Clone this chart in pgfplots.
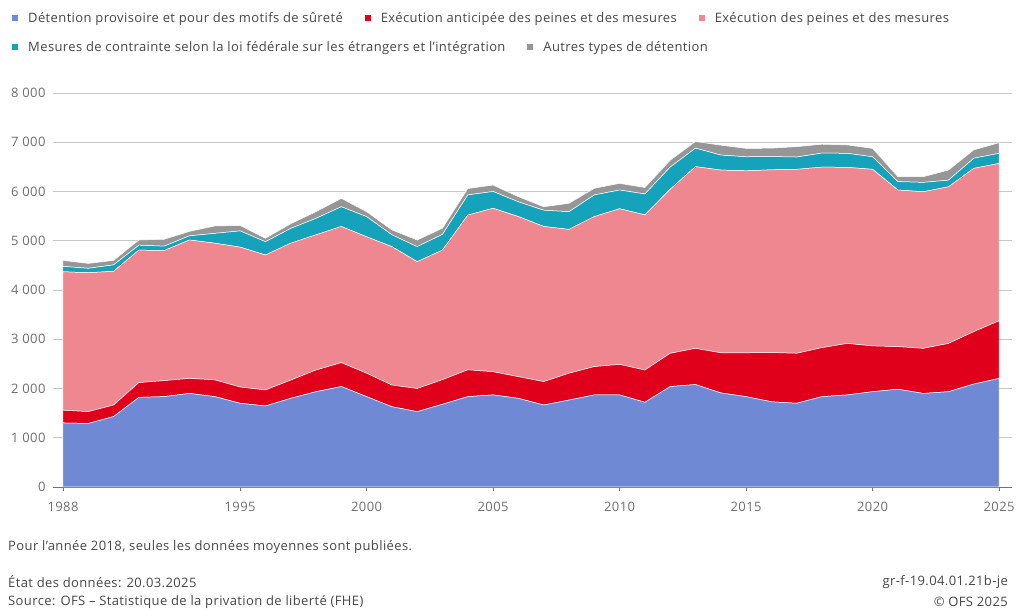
\documentclass[border=0pt]{standalone}
\usepackage{fontspec}
\setmainfont{Open Sans}[LetterSpace=3]
\usepackage{pgfplots}
\usepackage{pgfplotstable}
\pgfplotsset{compat=1.18}

\definecolor{cBlue}{RGB}{111,137,212}
\definecolor{cRed}{RGB}{224,0,27}
\definecolor{cPink}{RGB}{238,135,144}
\definecolor{cTeal}{RGB}{20,163,186}
\definecolor{cGray}{RGB}{150,150,150}
\definecolor{cText}{RGB}{70,70,70}
\definecolor{cTick}{RGB}{110,110,110}

\pgfplotstableread{
year  a     b     c     d    e
1988  1300  260   2810  110  120
1989  1290  240   2820  90   100
1990  1430  235   2715  130  90
1991  1820  300   2690  100  105
1992  1835  325   2640  90   140
1993  1900  305   2810  85   90
1994  1835  340   2775  200  150
1995  1700  330   2840  330  110
1996  1645  325   2740  270  70
1997  1800  370   2780  300  95
1998  1935  440   2745  335  135
1999  2040  485   2765  400  170
2000  1835  475   2770  410  100
2001  1630  440   2810  240  100
2002  1530  470   2575  305  135
2003  1680  500   2630  320  125
2004  1835  545   3140  410  130
2005  1870  470   3320  340  130
2006  1800  440   3250  300  105
2007  1665  475   3150  330  70
2008  1765  545   2920  360  170
2009  1870  575   3045  440  135
2010  1870  620   3160  380  135
2011  1720  655   3150  425  130
2012  2040  675   3330  450  140
2013  2080  735   3690  375  135
2014  1910  815   3710  305  200
2015  1835  890   3695  285  170
2016  1730  1000  3710  270  170
2017  1700  1015  3735  250  210
2018  1835  995   3665  285  180
2019  1870  1045  3575  285  170
2020  1935  930   3585  255  170
2021  1985  865   3180  170  100
2022  1900  915   3180  190  115
2023  1935  980   3180  135  205
2024  2090  1065  3315  205  170
2025  2205  1170  3195  205  215
}\datatable

\begin{document}
\begin{tikzpicture}[font=\fontsize{13bp}{16bp}\selectfont]
\path[use as bounding box] (0,0) rectangle (1016bp,610bp);
\pgfplotsset{
  legsq/.style={legend image code/.code={\fill[##1,draw=none] (0bp,-3bp) rectangle (6bp,3bp);}},
}
\begin{axis}[
  at={(53bp,123bp)}, anchor=south west,
  scale only axis, width=959bp, height=394bp,
  xmin=1987.605, xmax=2025.51, ymin=0, ymax=8000,
  stack plots=y,
  axis x line*=bottom, axis y line*=left,
  y axis line style={draw=none},
  x axis line style={draw=black!55, line width=0.9pt, -},
  ytick={0,1000,...,8000},
  xtick={1988,1995,2000,2005,2010,2015,2020,2025},
  xticklabel style={/pgf/number format/1000 sep={}, text=cTick, yshift=-8bp},
  yticklabel style={text=cTick, xshift=0bp},
  /pgf/number format/.cd, 1000 sep={\ }, assume math mode=true, /pgfplots/.cd,
  y tick style={draw=none},
  x tick style={draw=black!55, line width=0.8pt},
  tick align=outside, major tick length=4bp,
  ymajorgrids, grid style={draw=black!22, line width=0.9pt},
  legsq,
  legend columns=3,
  legend style={at={(0,1)}, anchor=west, xshift=-41bp, yshift=75bp,
    draw=none, fill=none, inner sep=0pt, text=cText,
    /tikz/every even column/.append style={column sep=20bp},
    /tikz/every odd column/.append style={column sep=8bp},
    nodes={inner sep=2bp}},
  legend cell align=left,
  clip=false,
]
\addplot[fill=cBlue, draw=white, line width=0.5pt] table[x=year,y=a]{\datatable} \closedcycle;
\addlegendentry{Détention provisoire et pour des motifs de sûreté}
\addplot[fill=cRed, draw=white, line width=0.5pt] table[x=year,y=b]{\datatable} \closedcycle;
\addlegendentry{Exécution anticipée des peines et des mesures}
\addplot[fill=cPink, draw=white, line width=0.5pt] table[x=year,y=c]{\datatable} \closedcycle;
\addlegendentry{Exécution des peines et des mesures}
\addplot[fill=cTeal, draw=white, line width=0.5pt, forget plot] table[x=year,y=d]{\datatable} \closedcycle;
\addplot[fill=cGray, draw=white, line width=0.5pt, forget plot] table[x=year,y=e]{\datatable} \closedcycle;
\end{axis}
\begin{axis}[
  at={(53bp,123bp)}, anchor=south west,
  scale only axis, width=959bp, height=394bp,
  hide axis, xmin=0, xmax=1, ymin=0, ymax=1,
  legsq,
  legend columns=2,
  legend style={at={(0,1)}, anchor=west, xshift=-41bp, yshift=46bp,
    draw=none, fill=none, inner sep=0pt, text=cText,
    /tikz/every even column/.append style={column sep=20bp},
    /tikz/every odd column/.append style={column sep=8bp},
    nodes={inner sep=2bp}},
  legend cell align=left,
]
\addlegendimage{fill=cTeal}
\addlegendentry{Mesures de contrainte selon la loi fédérale sur les étrangers et l'intégration}
\addlegendimage{fill=cGray}
\addlegendentry{Autres types de détention}
\end{axis}
\node[anchor=west, text=cText, inner sep=0pt] at (8bp,63bp) {Pour l'année 2018, seules les données moyennes sont publiées.};
\node[anchor=west, text=cText, inner sep=0pt] at (8bp,28bp) {État des données: 20.03.2025};
\node[anchor=west, text=cText, inner sep=0pt] at (8bp,8bp) {Source: OFS – Statistique de la privation de liberté (FHE)};
\node[anchor=east, text=cText, inner sep=0pt] at (1008bp,28bp) {gr-f-19.04.01.21b-je};
\node[anchor=east, text=cText, inner sep=0pt] at (1008bp,8bp) {© OFS 2025};
\end{tikzpicture}
\end{document}
